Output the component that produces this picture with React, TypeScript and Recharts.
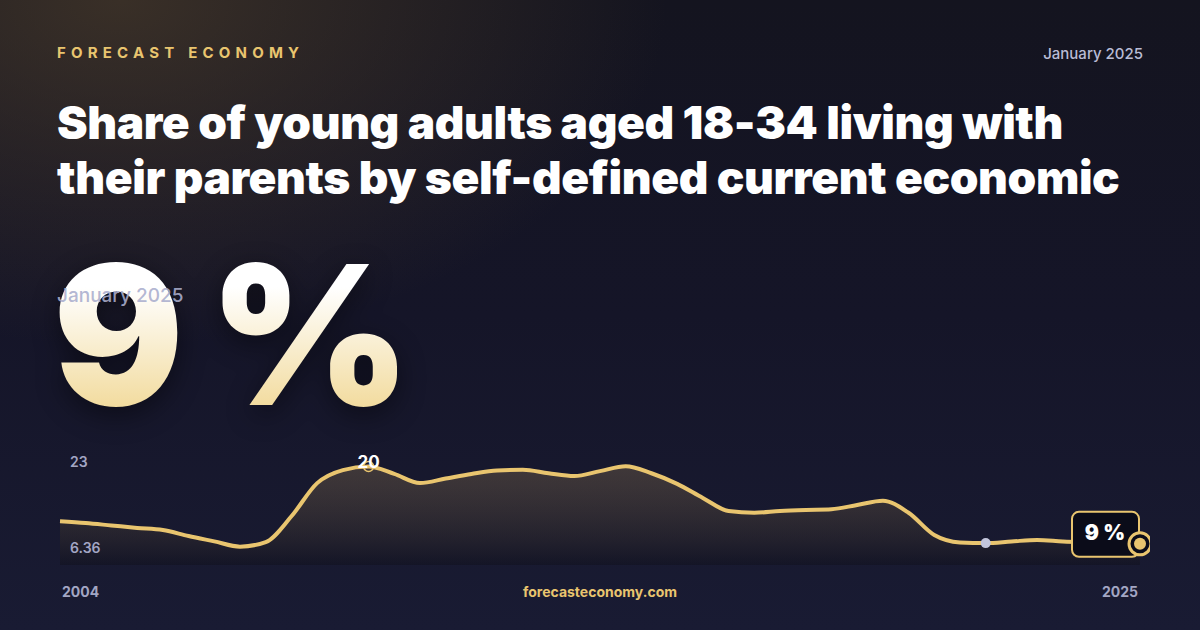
import React from 'react';
import { ComposedChart, Area, Line, XAxis, YAxis, ReferenceDot } from 'recharts';

// half-year readings, 2004 → 2025 (share %)
const periods = [
    2004, 2004.5, 2005, 2005.5, 2006, 2006.5, 2007, 2007.5, 2008, 2008.5, 2009, 2009.5, 2010, 2010.5,
    2011, 2011.5, 2012, 2012.5, 2013, 2013.5, 2014, 2014.5, 2015, 2015.5, 2016, 2016.5, 2017, 2017.5,
    2018, 2018.5, 2019, 2019.5, 2020, 2020.5, 2021, 2021.5, 2022, 2022.5, 2023, 2023.5, 2024, 2024.5, 2025,
];
const shares = [
    12.2, 11.95, 11.6, 11.25, 10.95, 10.1, 9.35, 8.6, 9.25, 12.9, 17.6, 19.45, 19.95, 18.9,
    17.6, 18.25, 18.9, 19.4, 19.5, 19.0, 18.6, 19.3, 20.0, 19.0, 17.5, 15.5, 13.65, 13.4,
    13.65, 13.8, 13.9, 14.5, 15.1, 13.4, 10.25, 9.2, 9.1, 9.33, 9.55, 9.33, 9.2, 9.1, 9.0,
];
const yTicks = ['23', '6.36'];
const xLabels = ['2004', '2025'];
const peakIndex = 12; // the "20" callout
const grayIndex = 36;
const lastIndex = shares.length - 1;

const data = periods.map((p, i) => ({ period: p, share: shares[i] }));

const GOLD = '#e9c56f';
const MUTED = '#a3a6c4';
const FONT = 'Inter, "Noto Sans", sans-serif';

function EndMarker(props: any) {
    const { cx, cy } = props;
    return (
        <g>
            <rect x={cx - 68} y={cy - 32} width={67} height={45} rx={7} fill="#0b0c19" stroke={GOLD} strokeWidth={2} />
            <text x={cx - 35} y={cy - 4} textAnchor="middle" fill="#ffffff" fontSize={21} fontWeight={900} fontFamily={FONT}>
                9 %
            </text>
            <circle cx={cx} cy={cy} r={11} fill="#0b0c19" stroke={GOLD} strokeWidth={3} />
            <circle cx={cx} cy={cy} r={6} fill={GOLD} />
        </g>
    );
}

export default function App() {
    return (
        <div
            style={{
                position: 'fixed',
                left: 0,
                top: 0,
                width: 1200,
                height: 630,
                overflow: 'hidden',
                fontFamily: FONT,
                background:
                    'radial-gradient(ellipse 760px 480px at 10% 0%, rgba(80,64,44,0.62), rgba(80,64,44,0) 72%), linear-gradient(180deg, #14141f 0%, #151528 50%, #191b33 100%)',
            }}
        >
            <div style={{ position: 'absolute', left: 57, top: 43, color: GOLD, fontSize: 15, fontWeight: 700, letterSpacing: 5.2 }}>
                FORECAST ECONOMY
            </div>
            <div style={{ position: 'absolute', right: 57, top: 44, color: '#b9bcd6', fontSize: 15, fontWeight: 500 }}>
                January 2025
            </div>
            <div
                style={{
                    position: 'absolute',
                    left: 57,
                    top: 95,
                    color: '#ffffff',
                    fontSize: 46,
                    fontWeight: 900,
                    lineHeight: '55px',
                    letterSpacing: -0.4,
                }}
            >
                Share of young adults aged 18-34 living with
                <br />
                their parents by self-defined current economic
            </div>
            <div
                style={{
                    position: 'absolute',
                    left: 53,
                    top: 215,
                    fontSize: 194,
                    fontWeight: 900,
                    lineHeight: '240px',
                    letterSpacing: -7,
                    background: 'linear-gradient(180deg, #ffffff 30%, #f1d895 85%)',
                    WebkitBackgroundClip: 'text',
                    backgroundClip: 'text',
                    color: 'transparent',
                    filter: 'drop-shadow(0 8px 14px rgba(0,0,0,0.45))',
                }}
            >
                9 %
            </div>
            <div style={{ position: 'absolute', left: 57, top: 284, color: 'rgba(170,174,206,0.9)', fontSize: 19, fontWeight: 500 }}>
                January 2025
            </div>

            <div style={{ position: 'absolute', left: 50, top: 435 }}>
                <ComposedChart width={1100} height={130} data={data} margin={{ top: 10, right: 10, bottom: 0, left: 10 }}>
                    <defs>
                        <linearGradient id="shareFill" x1="0" y1="0" x2="0" y2="1">
                            <stop offset="0%" stopColor="#b8975c" stopOpacity={0.42} />
                            <stop offset="100%" stopColor="#0c0c14" stopOpacity={0.6} />
                        </linearGradient>
                    </defs>
                    <XAxis dataKey="period" type="number" domain={[2004, 2025]} hide />
                    <YAxis domain={[6, 23]} hide />
                    <Area
                        type="monotone"
                        dataKey="share"
                        stroke="none"
                        fill="url(#shareFill)"
                        isAnimationActive={false}
                        baseValue={6}
                    />
                    <Line
                        type="monotone"
                        dataKey="share"
                        stroke={GOLD}
                        strokeWidth={4}
                        dot={false}
                        activeDot={false}
                        isAnimationActive={false}
                    />
                    <ReferenceDot
                        x={periods[peakIndex]}
                        y={shares[peakIndex]}
                        r={5}
                        fill="none"
                        stroke={GOLD}
                        strokeWidth={1.5}
                        label={{ value: '20', position: 'top', offset: -6, fill: '#ffffff', fontSize: 17, fontWeight: 700, fontFamily: FONT }}
                    />
                    <ReferenceDot x={periods[grayIndex]} y={shares[grayIndex]} r={5} fill="#c3c6dc" stroke="none" />
                    <ReferenceDot x={periods[lastIndex]} y={shares[lastIndex]} shape={EndMarker} />
                </ComposedChart>
            </div>

            <div style={{ position: 'absolute', left: 70, top: 453, color: MUTED, fontSize: 14, fontWeight: 600 }}>{yTicks[0]}</div>
            <div style={{ position: 'absolute', left: 70, top: 539, color: MUTED, fontSize: 14, fontWeight: 600 }}>{yTicks[1]}</div>

            <div style={{ position: 'absolute', left: 62, top: 583, color: MUTED, fontSize: 14, fontWeight: 700 }}>{xLabels[0]}</div>
            <div
                style={{ position: 'absolute', left: 0, width: 1200, top: 583, textAlign: 'center', color: GOLD, fontSize: 14, fontWeight: 700 }}
            >
                forecasteconomy.com
            </div>
            <div style={{ position: 'absolute', right: 62, top: 583, color: MUTED, fontSize: 14, fontWeight: 700 }}>{xLabels[1]}</div>
        </div>
    );
}
